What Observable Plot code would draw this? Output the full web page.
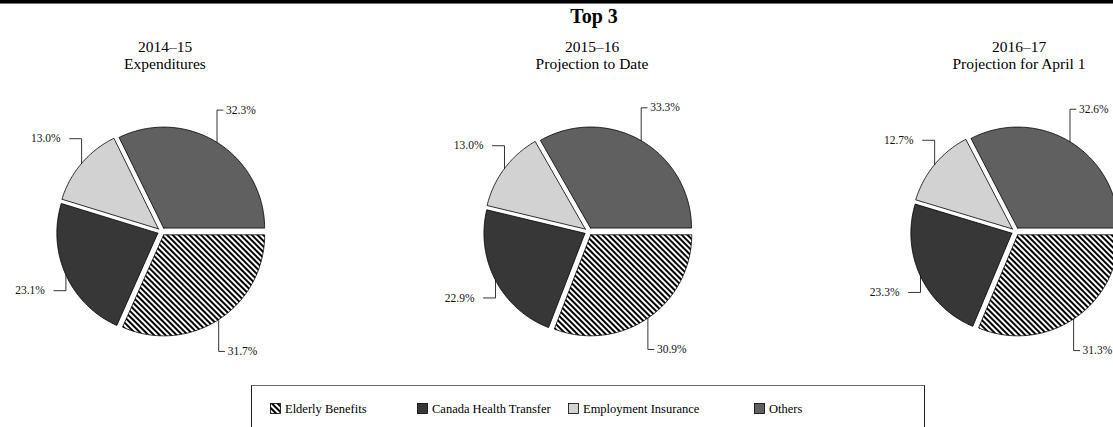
<!DOCTYPE html>
<html>
<head>
<meta charset="utf-8">
<script src="https://cdn.jsdelivr.net/npm/d3@7"></script>
<script src="https://cdn.jsdelivr.net/npm/@observablehq/plot@0.6"></script>
<style>
  html, body { margin: 0; padding: 0; background: #fff; }
  #wrap { position: relative; width: 1113px; height: 427px; overflow: hidden; background: #fff;
          font-family: "Liberation Serif", "Times New Roman", serif; color: #000; }
  #rule1 { position: absolute; left: 0; top: 0; width: 1113px; height: 3px; background: #000; }
  #rule2 { position: absolute; left: 0; top: 3px; width: 1113px; height: 1px; background: #777; }
  #title { position: absolute; left: 0; top: 6px; width: 1188px; text-align: center;
           font-weight: bold; font-size: 20px; line-height: 20px; }
  .sub { position: absolute; top: 38px; width: 300px; text-align: center; font-size: 15.5px; line-height: 17px; }
  #chart { position: absolute; left: 0; top: 75px; }
  #legend { position: absolute; left: 251px; top: 385px; width: 674px; height: 60px;
            border: 1px solid #222; border-top: 1.5px solid #6a6a6a; box-sizing: border-box; }
  .item { position: absolute; top: 17px; font-size: 12.5px; line-height: 12px; white-space: nowrap; }
  .item svg { position: absolute; left: 0; top: 0; }
  .item span { position: absolute; left: 15px; top: 0px; }
</style>
</head>
<body>
<svg width="0" height="0" style="position:absolute">
  <defs>
    <pattern id="hatch" patternUnits="userSpaceOnUse" width="4" height="4" patternTransform="rotate(-45)">
      <rect x="0" y="0" width="4" height="4" fill="#fff"></rect>
      <rect x="0" y="0" width="2" height="4" fill="#000"></rect>
    </pattern>
  </defs>
</svg>
<div id="wrap">
  <div id="rule1"></div><div id="rule2"></div>
  <div id="title">Top 3</div>
  <div id="subs"></div>
  <div id="chart"></div>
  <div id="legend"></div>
</div>
<script>
// ---- data ----
const years = ["2014–15", "2015–16", "2016–17"];
const subtitles = ["Expenditures", "Projection to Date", "Projection for April 1"];
const categories = ["Elderly Benefits", "Canada Health Transfer", "Employment Insurance", "Others"];
const elderly = [31.7, 30.9, 31.3];
const cht = [23.1, 22.9, 23.3];
const ei = [13.0, 13.0, 12.7];
const others = [32.3, 33.3, 32.6];
const fills = ["url(#hatch)", "#373737", "#d2d2d2", "#606060"];

// ---- layout ----
const W = 1113, H = 305;
const R = 101;                 // pie radius in px
const firstC = 161, spacing = 427;   // px
const cyPx = 156;              // pie centre in svg px
const E = 4 / R;               // explode distance (units)
const LR = 143 / R;            // label radius (units)
const cxU = i => (firstC + spacing * i) / R;

const slices = [], leaders = [], labelsR = [], labelsL = [];
years.forEach((yr, i) => {
  const vals = [elderly[i], cht[i], ei[i], others[i]];
  const total = d3.sum(vals);
  let a = Math.PI / 2;
  vals.forEach((v, k) => {
    const a0 = a, a1 = a + v / total * 2 * Math.PI; a = a1;
    const m = (a0 + a1) / 2;
    const ox = cxU(i) + E * Math.sin(m), oy = E * Math.cos(m);
    const key = yr + "|" + categories[k];
    const n = Math.max(2, Math.ceil((a1 - a0) / (Math.PI / 180)));
    slices.push({key, cat: categories[k], x: ox, y: oy});
    for (let j = 0; j <= n; j++) {
      const t = a0 + (a1 - a0) * j / n;
      slices.push({key, cat: categories[k], x: ox + Math.sin(t), y: oy + Math.cos(t)});
    }
    slices.push({key, cat: categories[k], x: ox, y: oy});
    // leader + label
    const ax = cxU(i) + (1 + E) * Math.sin(m), ay = (1 + E) * Math.cos(m);
    const ly = LR * Math.cos(m);
    const right = Math.sin(m) > 0;
    const stub = (right ? 6 : 12) / R;
    const off = (right ? 9 : 21) / R;
    const sx = right ? ax + stub : ax - stub;
    leaders.push({key, x: ax, y: ay}, {key, x: ax, y: ly}, {key, x: sx, y: ly});
    const lab = {x: right ? ax + off : ax - off, y: ly, text: v.toFixed(1) + "%"};
    (right ? labelsR : labelsL).push(lab);
  });
});

const plot = Plot.plot({
  width: W, height: H,
  margin: 0,
  x: {domain: [0, W / R], range: [0, W], axis: null},
  y: {domain: [-(H - cyPx) / R, cyPx / R], range: [H, 0], axis: null},
  color: {type: "ordinal", domain: categories, range: fills},
  style: {fontFamily: "Liberation Serif, Times New Roman, serif", background: "transparent"},
  marks: [
    Plot.line(slices, {x: "x", y: "y", z: "key", fill: "cat", stroke: "#000", strokeWidth: 0.8, strokeLinejoin: "miter"}),
    Plot.line(leaders, {x: "x", y: "y", z: "key", stroke: "#000", strokeWidth: 0.8}),
    Plot.text(labelsR, {x: "x", y: "y", text: "text", textAnchor: "start", fontSize: 11.5, fill: "#111"}),
    Plot.text(labelsL, {x: "x", y: "y", text: "text", textAnchor: "end", fontSize: 11.5, fill: "#111"})
  ]
});
document.getElementById("chart").appendChild(plot);

// subtitles
const subs = document.getElementById("subs");
years.forEach((yr, i) => {
  const d = document.createElement("div");
  d.className = "sub";
  d.style.left = (firstC + spacing * i + 4 - 150) + "px";
  d.innerHTML = yr + "<br>" + subtitles[i];
  subs.appendChild(d);
});

// legend
const legendX = [18, 165, 316, 502];
const legend = document.getElementById("legend");
categories.forEach((c, k) => {
  const it = document.createElement("div");
  it.className = "item";
  it.style.left = legendX[k] + "px";
  it.innerHTML = `<svg width="11" height="11"><rect x="0.5" y="0.5" width="10" height="10" fill="${fills[k]}" stroke="#000" stroke-width="0.8"></rect></svg><span>${c}</span>`;
  legend.appendChild(it);
});
</script>
</body>
</html>
